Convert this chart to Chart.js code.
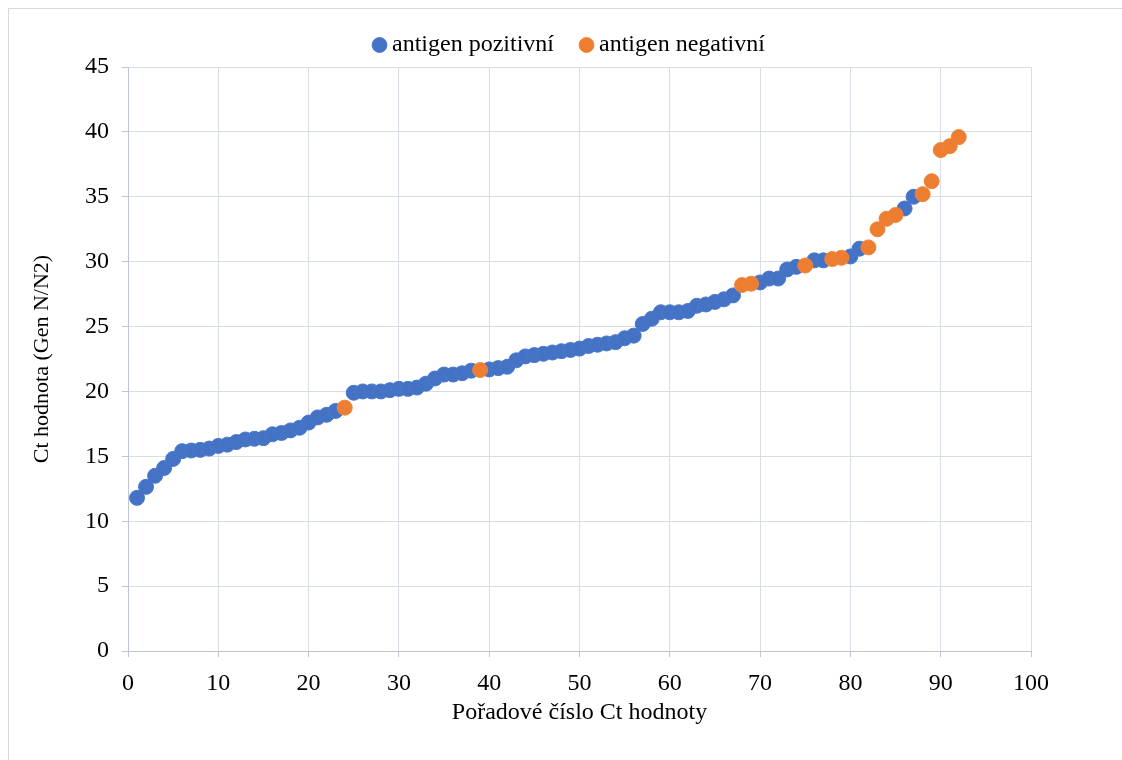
<!DOCTYPE html>
<html>
<head>
<meta charset="utf-8">
<script src="https://cdn.jsdelivr.net/npm/chart.js@4/dist/chart.umd.min.js"></script>
<style>
    html, body { margin: 0; padding: 0; background: #fff; }
    #wrap { position: relative; width: 1122px; height: 760px; overflow: hidden; }
    #frame { position: absolute; left: 8px; top: 8px; width: 1130px; height: 770px; border: 1px solid #d9d9d9; box-sizing: border-box; }
    #ctChart { position: absolute; left: 0; top: 0; }
</style>
</head>
<body>
<div id="wrap">
    <div id="frame"></div>
    <canvas id="ctChart" width="1122" height="760"></canvas>
</div>
<script>
// Ct values sorted ascending (order number 1..92)
const ctValues = [
    11.8, 12.65, 13.5, 14.1, 14.8, 15.4, 15.45, 15.5, 15.6, 15.8,
    15.9, 16.1, 16.3, 16.35, 16.4, 16.7, 16.8, 17.0, 17.2, 17.6,
    18.0, 18.2, 18.5, 18.75, 19.9, 20.0, 20.0, 20.0, 20.1, 20.2,
    20.2, 20.3, 20.6, 21.0, 21.3, 21.3, 21.4, 21.6, 21.65, 21.7,
    21.8, 21.9, 22.4, 22.7, 22.8, 22.9, 23.0, 23.1, 23.2, 23.3,
    23.5, 23.6, 23.7, 23.8, 24.1, 24.3, 25.2, 25.6, 26.1, 26.1,
    26.1, 26.2, 26.6, 26.7, 26.9, 27.1, 27.4, 28.2, 28.3, 28.4,
    28.7, 28.7, 29.4, 29.6, 29.7, 30.1, 30.1, 30.2, 30.3, 30.4,
    31.0, 31.1, 32.5, 33.3, 33.6, 34.1, 35.0, 35.2, 36.2, 38.6,
    38.9, 39.6
];

// order numbers of antigen-negative samples
const negativeIdx = [24, 39, 68, 69, 75, 78, 79, 82, 83, 84, 85, 88, 89, 90, 91, 92];

const seriesLabels = ['antigen pozitivní', 'antigen negativní'];
const xTicks = [0, 10, 20, 30, 40, 50, 60, 70, 80, 90, 100];
const yTicks = [0, 5, 10, 15, 20, 25, 30, 35, 40, 45];

const positivePts = [];
const negativePts = [];
ctValues.forEach((v, i) => {
    const n = i + 1;
    if (negativeIdx.includes(n)) negativePts.push({ x: n, y: v });
    else positivePts.push({ x: n, y: v });
});

const serif = "'Liberation Serif', 'Times New Roman', serif";
const gridColor = '#d9dde6';
const axisColor = '#bfc5d2';

new Chart(document.getElementById('ctChart'), {
    type: 'scatter',
    data: {
        datasets: [{
            label: seriesLabels[0],
            data: positivePts,
            order: 2,
            backgroundColor: '#4472C4',
            borderColor: '#4a78cc',
            borderWidth: 1,
            pointRadius: 7.5,
            pointHoverRadius: 7.5
        }, {
            label: seriesLabels[1],
            data: negativePts,
            order: 1,
            backgroundColor: '#ED7D31',
            borderColor: '#f08538',
            borderWidth: 1,
            pointRadius: 7.5,
            pointHoverRadius: 7.5
        }]
    },
    options: {
        responsive: false,
        animation: false,
        layout: { padding: { top: 19, left: 22, right: 0, bottom: 0 } },
        plugins: {
            tooltip: { enabled: false },
            legend: {
                position: 'top',
                labels: {
                    usePointStyle: true,
                    pointStyle: 'circle',
                    boxWidth: 1,
                    boxHeight: 10.5,
                    padding: 14,
                    color: '#000',
                    font: { family: serif, size: 24 },
                    sort: (a, b) => a.datasetIndex - b.datasetIndex,
                    // a little extra room between the two legend entries
                    generateLabels: (chart) => Chart.defaults.plugins.legend.labels.generateLabels(chart)
                        .map((item) => item.datasetIndex === 0 ? { ...item, text: item.text + '\u00a0\u00a0\u00a0' } : item)
                }
            }
        },
        scales: {
            x: {
                type: 'linear',
                min: 0,
                max: 100,
                afterBuildTicks: (axis) => { axis.ticks = xTicks.map(v => ({ value: v })); },
                afterFit: (axis) => { axis.height = 109; },
                grid: { color: gridColor, tickLength: 6, tickColor: axisColor },
                border: { color: axisColor },
                ticks: { color: '#000', padding: 12, font: { family: serif, size: 24 } },
                title: {
                    display: true,
                    text: 'Pořadové číslo Ct hodnoty',
                    color: '#000',
                    padding: { top: 6, bottom: 33 },
                    font: { family: serif, size: 24 }
                }
            },
            y: {
                min: 0,
                max: 45,
                afterBuildTicks: (axis) => { axis.ticks = yTicks.map(v => ({ value: v })); },
                afterFit: (axis) => { axis.width = 106; },
                grid: { color: gridColor, tickLength: 6, tickColor: axisColor },
                border: { color: axisColor },
                ticks: { color: '#000', padding: 13, font: { family: serif, size: 24 } },
                title: {
                    display: true,
                    text: 'Ct hodnota (Gen N/N2)',
                    color: '#000',
                    padding: { top: 7, bottom: 10 },
                    font: { family: serif, size: 22 }
                }
            },
            yPad: {
                position: 'right',
                display: true,
                afterFit: (axis) => { axis.width = 91; },
                grid: { display: false, drawTicks: false },
                border: { display: false },
                ticks: { display: false }
            }
        }
    }
});
</script>
</body>
</html>
